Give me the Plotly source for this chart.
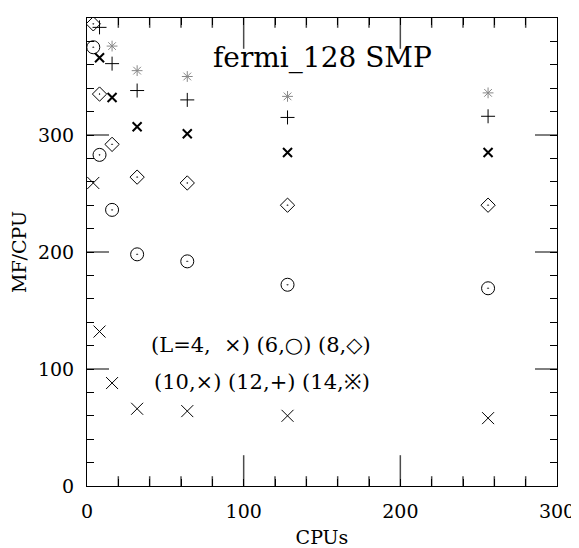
import plotly.graph_objects as go

cpus = [4, 8, 16, 32, 64, 128, 256]

mf_l4 = [259, 132, 88, 66, 64, 60, 58]
mf_l6 = [375, 283, 236, 198, 192, 172, 169]
mf_l8 = [395, 335, 292, 264, 259, 240, 240]
mf_l10 = [None, 366, 332, 307, 301, 285, 285]
mf_l12 = [None, 392, 361, 338, 330, 315, 316]
mf_l14 = [None, None, 376, 355, 350, 333, 336]

x_ticks = list(range(0, 301, 20))
y_ticks = list(range(0, 401, 20))

# values, symbol, size, line width, colour
series = [
    (mf_l4, "x-thin-open", 12, 1, "black"),
    (mf_l6, "circle-open-dot", 13, 1, "black"),
    (mf_l8, "diamond-open-dot", 11, 1, "black"),
    (mf_l10, "x-thin-open", 9, 2, "black"),
    (mf_l12, "cross-thin-open", 10, 1, "black"),
    (mf_l14, "asterisk-open", 9, 1, "#888888"),
]

fnt = "DejaVu Serif"

fig = go.Figure()
for ys, sym, sz, lw, col in series:
    fig.add_trace(go.Scatter(
        x=cpus, y=ys, mode="markers",
        marker=dict(symbol=sym, size=sz, color=col, line=dict(width=lw, color=col)),
        showlegend=False))

# x tick marks on the bottom and top edges, as half-clipped vertical line markers
xt_inner = [v for v in x_ticks if 0 < v < 300]
xt_size = [44 if v % 100 == 0 else 14 for v in xt_inner]
for edge in (0, 400):
    fig.add_trace(go.Scatter(
        x=xt_inner, y=[edge] * len(xt_inner), mode="markers", hoverinfo="skip",
        marker=dict(symbol="line-ns-open", size=xt_size, color="black",
                    line=dict(width=1.5, color="black")),
        showlegend=False))

axis_style = dict(
    showline=True, linecolor="black", linewidth=1, mirror="allticks",
    ticks="inside", ticklen=7, tickcolor="black",
    showgrid=False, zeroline=False, automargin=False, tickmode="array",
    ticklabelstandoff=8, tickfont=dict(family=fnt, size=19, color="black"),
)

fig.update_layout(
    xaxis=dict(range=[0, 300], tickvals=x_ticks, tickwidth=1,
               ticktext=[str(v) if v % 100 == 0 else "" for v in x_ticks],
               title=dict(text="CPUs", standoff=12, font=dict(family=fnt, size=19, color="black")),
               **axis_style),
    yaxis=dict(range=[0, 400], tickvals=y_ticks, tickwidth=1,
               ticktext=[str(v) if v % 100 == 0 else "" for v in y_ticks],
               title=dict(text="MF/CPU", standoff=14, font=dict(family=fnt, size=19, color="black")),
               **axis_style),
)

# long ticks at every 100 units on the left and right edges
for v in y_ticks:
    if v % 100 == 0 and 0 < v < 400:
        fig.add_shape(type="line", xref="paper", yref="y", xsizemode="pixel", xanchor=0,
                      x0=0, x1=22, y0=v, y1=v, line=dict(color="black", width=1))
        fig.add_shape(type="line", xref="paper", yref="y", xsizemode="pixel", xanchor=1,
                      x0=0, x1=-22, y0=v, y1=v, line=dict(color="black", width=1))

fig.add_annotation(x=0.5, y=0.955, xref="paper", yref="paper", text="fermi_128 SMP",
                   showarrow=False, font=dict(family=fnt, size=28, color="black"))
fig.add_annotation(x=0.37, y=0.272, xref="paper", yref="paper", xanchor="center",
                   text="(L=4,  ×) (6,○) (8,◇)", showarrow=False,
                   font=dict(family=fnt, size=21, color="black"))
fig.add_annotation(x=0.372, y=0.192, xref="paper", yref="paper", xanchor="center",
                   text="(10,×) (12,+) (14,※)", showarrow=False,
                   font=dict(family=fnt, size=21, color="black"))

# the page puts the figure 8px in from the top-left corner
fig.update_layout(
    width=571, height=540,
    margin=dict(l=79, r=22, t=10, b=62),
    plot_bgcolor="white", paper_bgcolor="white",
)

fig.write_html("out.html")
